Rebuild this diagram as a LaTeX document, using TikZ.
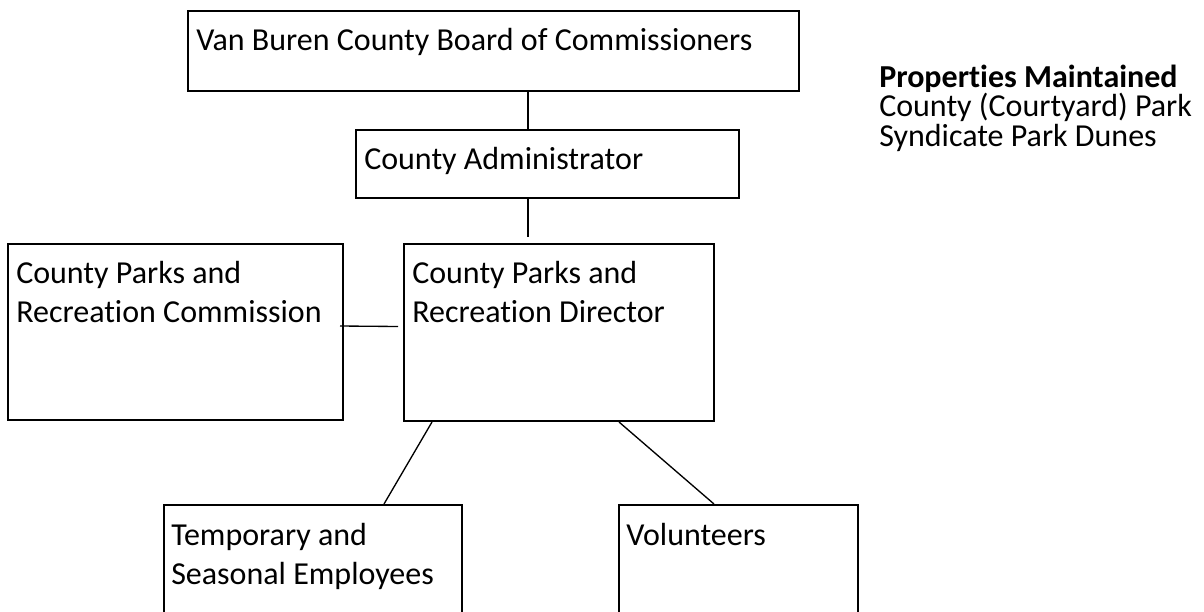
\documentclass[tikz,border=0pt]{standalone}
\usepackage{fontspec}
\setmainfont{Carlito}[Ligatures=NoCommon]
\usetikzlibrary{calc}
\begin{document}
\begin{tikzpicture}[x=0.75pt,y=-0.75pt,
  box/.style={draw, line width=1.5pt, inner sep=0pt, anchor=north west},
  conn/.style={draw, line width=1pt},
  txt/.style={anchor=base west, inner sep=0pt, align=left, font=\fontsize{24}{29}\selectfont},
  props/.style={anchor=base west, inner sep=0pt, align=left, font=\fontsize{24}{22}\selectfont}]
\clip (0,0) rectangle (1204,611);
\node[box, minimum width=458.25pt, minimum height=60pt] (board) at (187,10) {};
\node[box, minimum width=287.25pt, minimum height=51pt] (admin) at (355,129) {};
\node[box, minimum width=251.25pt, minimum height=132pt] (comm) at (7,243) {};
\node[box, minimum width=232.5pt, minimum height=132.75pt] (dir) at (403,243) {};
\node[box, minimum width=223.5pt, minimum height=90pt] (temp) at (163,504) {};
\node[box, minimum width=179.25pt, minimum height=90pt] (vol) at (618,504) {};
\node[txt] (board-t) at (196,50) {Van Buren County Board of Commissioners};
\node[txt] (admin-t) at (364,169) {County Administrator};
\node[txt] (comm-t) at (16,322) {County Parks and\\Recreation Commission};
\node[txt] (dir-t) at (412,322) {County Parks and\\Recreation Director};
\node[txt] (temp-t) at (171,584) {Temporary and\\Seasonal Employees};
\node[txt] (vol-t) at (626,545) {Volunteers};
\node[props] (props-t) at (879,146) {\textbf{Properties Maintained}\\County (Courtyard) Park\\Syndicate Park Dunes};
\coordinate (v) at (528,0);
\draw[conn] (board.south -| v) -- (admin.north -| v);
\draw[conn] (admin.south -| v) -- ($(dir.north -| v)+(0,-6)$);
\draw[conn] ($(comm.east)+(-4,-6)$) -- ($(dir.west)+(-5,-6)$);
\draw[conn] ($(dir.south west)+(29,0)$) -- ($(temp.north west)+(221,0)$);
\draw[conn] ($(dir.south west)+(216,0)$) -- ($(vol.north west)+(96,0)$);
\end{tikzpicture}
\end{document}
